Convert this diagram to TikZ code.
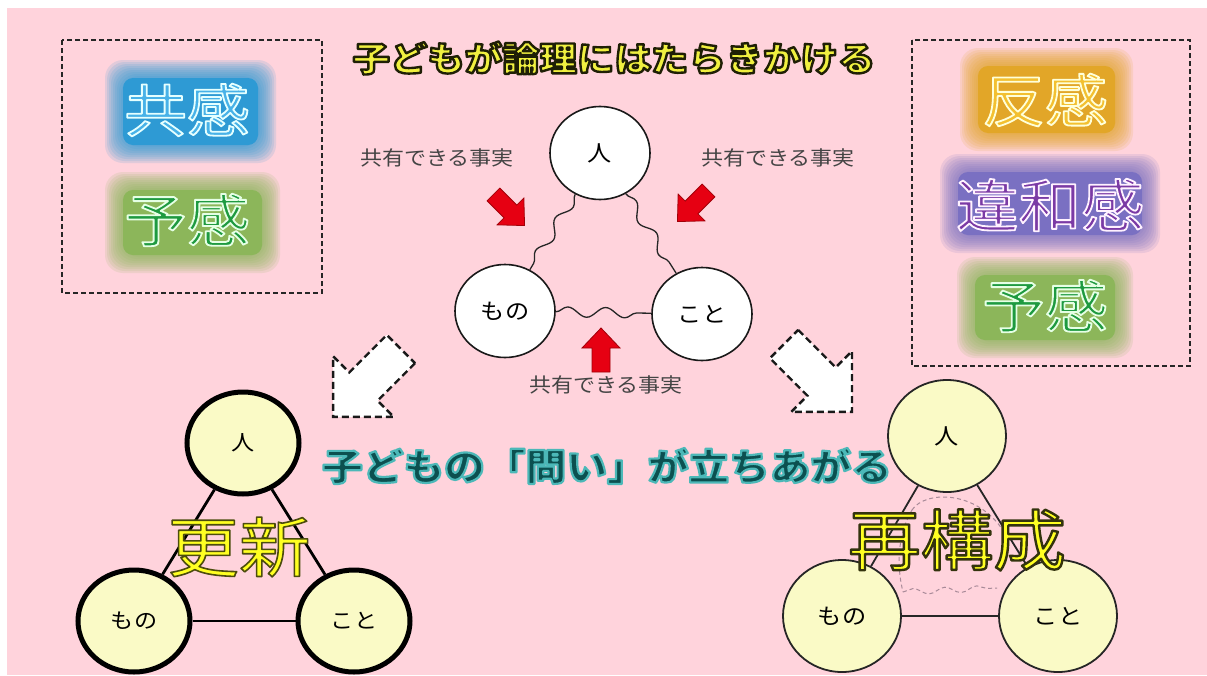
\documentclass[tikz,border=0pt]{standalone}
\usepackage{fontspec}
\newfontfamily\jp[FakeStretch=1.1]{Noto Sans CJK JP}
\usetikzlibrary{shapes.geometric,decorations.pathmorphing}
\definecolor{bgpink}{HTML}{FFD3DC}
\definecolor{cream}{HTML}{FAFAC6}
\definecolor{lblgray}{HTML}{444444}
\definecolor{redfill}{HTML}{E60012}
\definecolor{reddark}{HTML}{A00008}
\definecolor{blueblob}{HTML}{2E9AD4}
\definecolor{greenblob}{HTML}{8CB65A}
\definecolor{orangeblob}{HTML}{E2A628}
\definecolor{purpleblob}{HTML}{7A70C2}
\definecolor{faint}{HTML}{A88A98}
\definecolor{tyellow}{HTML}{F0F040}
\definecolor{tteal}{HTML}{0C5050}
\definecolor{kblue}{HTML}{48B2E8}
\definecolor{kgreen}{HTML}{1E9A40}
\definecolor{korange}{HTML}{F3C030}
\definecolor{kpurple}{HTML}{7B3AA5}
\definecolor{byellow}{HTML}{FFFF22}
% outlined text: #1 stroke width, #2 stroke rgb, #3 fill colour, #4 text
\newcommand\olt[4]{\textcolor{#3}{\special{pdf:literal direct 2 Tr 1 j #1 w #2 RG}#4\special{pdf:literal direct 0 Tr}}}
\newcommand\blob[5]{%
\foreach \k in {9,8,7,6,5,4,3,2,1}{\fill[#5,opacity=0.14,rounded corners=18pt] ({#1-\k*2},{#2-\k*2}) rectangle ({#3+\k*2},{#4+\k*2});}%
\fill[#5,rounded corners=10pt] (#1,#2) rectangle (#3,#4);}
\begin{document}
\begin{tikzpicture}[x=1pt,y=-1pt,
  dbox/.style={draw=black!85,line width=1.6pt,dash pattern=on 5pt off 3pt},
  cw/.style={ellipse,draw=black!90,line width=1.6pt,fill=white,minimum width=100pt,minimum height=93pt,inner sep=0pt,font=\jp\fontsize{22}{24}\selectfont},
  cya/.style={ellipse,draw=black,line width=5pt,fill=cream,minimum width=112pt,minimum height=102pt,inner sep=0pt,font=\jp\fontsize{21}{24}\selectfont},
  cyb/.style={ellipse,draw=black!85,line width=1.8pt,fill=cream,minimum width=118pt,minimum height=112pt,inner sep=0pt,font=\jp\fontsize{22}{24}\selectfont},
  wave/.style={draw=black!85,line width=1.3pt,decorate,decoration={snake,segment length=38pt,amplitude=5pt}},
  faintwave/.style={draw=faint,line width=1pt,dash pattern=on 4pt off 3pt,decorate,decoration={snake,segment length=32pt,amplitude=3pt}},
  lbl/.style={font=\jp\fontsize{20}{22}\selectfont,text=lblgray,inner sep=0pt},
  kw/.style={font=\jp\fontsize{57}{60}\selectfont,inner sep=0pt},
  redarrow/.pic={\fill[redfill,draw=reddark,line width=0.8pt] (-22,-9) -- (2,-9) -- (2,-19) -- (22,0) -- (2,19) -- (2,9) -- (-22,9) -- cycle;},
  whitearrow/.pic={\draw[fill=white,draw=black!90,line width=2.4pt,dash pattern=on 7pt off 4pt] (-48,-20) -- (5,-20) -- (5,-43) -- (48,0) -- (5,43) -- (5,20) -- (-48,20) -- cycle;}
]
\useasboundingbox (0,0) rectangle (1207,675);
\fill[white] (0,0) rectangle (1207,675);
\fill[bgpink] (7,8) rectangle (1207,675);

% dashed boxes
\draw[dbox] (62,40) rectangle (322,293);
\draw[dbox] (912,40) rectangle (1190,366);

% blobs
\blob{123}{78}{258}{145}{blueblob}
\blob{123}{190}{262}{255}{greenblob}
\blob{978}{66}{1115}{133}{orangeblob}
\blob{958}{172}{1142}{235}{purpleblob}
\blob{975}{275}{1115}{340}{greenblob}

% keywords
\node[kw] (kyo) at (187,110) {\olt{1.8}{0.9 1 1}{kblue}{共感}};
\node[kw] (yo1) at (187,220) {\olt{1.8}{0.9 1 0.9}{kgreen}{予感}};
\node[kw] (han) at (1045,100) {\olt{1.8}{1 1 0.85}{korange}{反感}};
\node[kw] (iwa) at (1050,205) {\olt{1.8}{1 0.95 1}{kpurple}{違和感}};
\node[kw] (yo2) at (1045,306) {\olt{1.8}{0.9 1 0.9}{kgreen}{予感}};

% titles
\node[inner sep=0pt] (t1) at (614,58) {\jp\bfseries\fontsize{34}{40}\selectfont\olt{2.4}{0.12 0.12 0.02}{tyellow}{子どもが論理にはたらきかける}};
\node[inner sep=0pt] (t2) at (607,466) {\jp\bfseries\fontsize{37}{42}\selectfont\olt{2.2}{0.3 0.72 0.72}{tteal}{子どもの「問い」が立ちあがる}};

% central triangle
\node[cw] (h1) at (600,153) {人};
\node[cw] (m1) at (505,311) {もの};
\node[cw] (k1) at (702,314) {こと};
\draw[wave] (h1) -- (m1);
\draw[wave] (h1) -- (k1);
\draw[wave] (m1) -- (k1);

% labels
\node[lbl] (l1) at (437,158) {共有できる事実};
\node[lbl] (l2) at (778,158) {共有できる事実};
\node[lbl] (l3) at (606,385) {共有できる事実};

% red arrows
\pic[rotate=-45] (ra1) at (509,210) {redarrow};
\pic[rotate=-135] (ra2) at (693,206) {redarrow};
\pic[rotate=90] (ra3) at (601,350) {redarrow};

% white dashed arrows
\pic[rotate=-135] (wa1) at (367,383) {whitearrow};
\pic[rotate=-45] (wa2) at (818,378) {whitearrow};

% bottom-left triangle
\node[cya] (h2) at (243,443) {人};
\node[cya] (m2) at (134,621) {もの};
\node[cya] (k2) at (354,621) {こと};
\draw[line width=2.8pt] (h2) -- (m2);
\draw[line width=2.8pt] (h2) -- (k2);
\draw[line width=2.8pt] (m2) -- (k2);
\node[inner sep=0pt] (kou) at (239,547) {\jp\fontsize{65}{70}\selectfont\olt{1.6}{0.3 0.3 0.05}{byellow}{更新}};

% bottom-right triangle
\node[cyb] (h3) at (947,436) {人};
\node[cyb] (m3) at (842,616) {もの};
\node[cyb] (k3) at (1058,616) {こと};
\draw[line width=1.8pt,black!85] (h3) -- (m3);
\draw[line width=1.8pt,black!85] (h3) -- (k3);
\draw[line width=1.8pt,black!85] (m3) -- (k3);
\draw[draw=faint,line width=1pt,dash pattern=on 4pt off 3pt] (912,510) .. controls (925,490) and (978,490) .. (1004,532);
\draw[faintwave] (903,592) -- (997,588);
\draw[draw=faint,line width=1pt,dash pattern=on 4pt off 3pt] (912,510) .. controls (900,530) and (895,560) .. (903,592);
\node[inner sep=0pt] (sai) at (957,540) {\jp\fontsize{66}{70}\selectfont\olt{2.4}{0.2 0.2 0.05}{byellow}{再構成}};
\end{tikzpicture}
\end{document}
